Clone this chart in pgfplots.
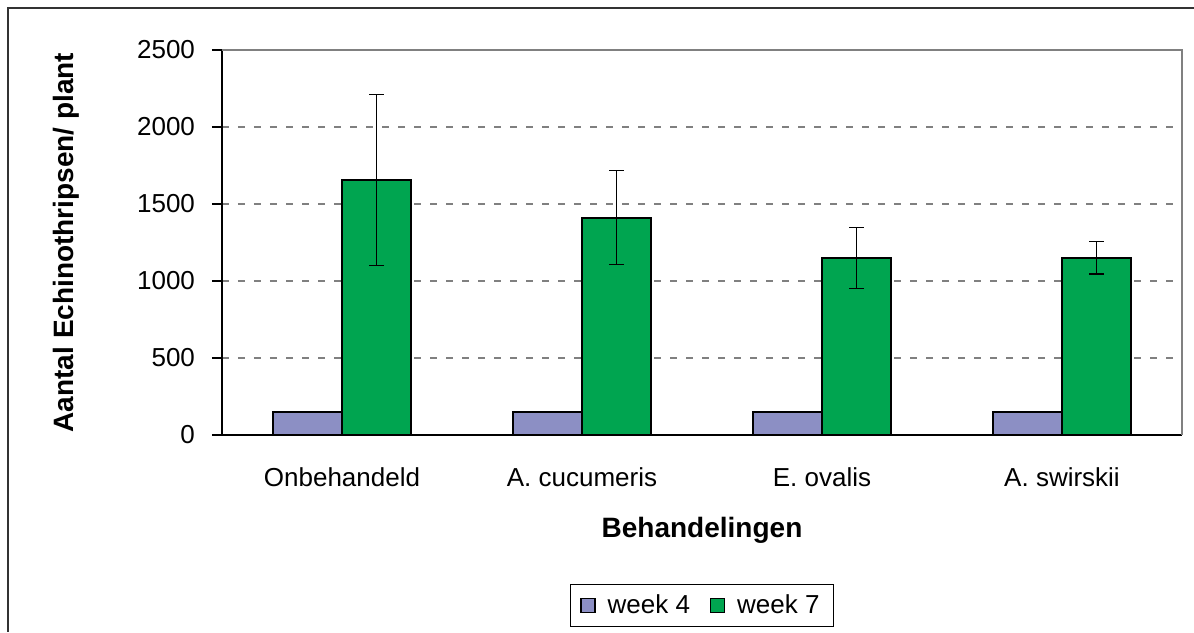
\documentclass[border=0pt]{standalone}
\usepackage{pgfplots}
\pgfplotsset{compat=1.18}
\usepackage{fontspec}
\setmainfont{Liberation Sans}
\definecolor{wkfour}{RGB}{140,143,196}
\definecolor{wkseven}{RGB}{0,165,80}
\definecolor{gridgray}{RGB}{128,128,128}
\begin{document}
\begin{tikzpicture}
\path[use as bounding box] (-111pt,-98.5pt) rectangle (486pt,217.5pt);
\draw[black!80, line width=1pt] (486pt,213.5pt) -- (-107pt,213.5pt) -- (-107pt,-98.5pt);
\begin{axis}[
  width=480pt, height=192.5pt, scale only axis,
  ybar=0pt, bar width=34.5pt,
  xmin=-0.5, xmax=3.5, ymin=0, ymax=2500,
  ytick={0,500,1000,1500,2000,2500},
  xtick={0,1,2,3},
  xticklabels={Onbehandeld, A. cucumeris, E. ovalis, A. swirskii},
  extra x ticks={-0.5,0.5,1.5,2.5,3.5},
  extra x tick labels={},
  extra x tick style={major tick length=5pt, tick align=outside, tick style={black, line width=0.6pt}},
  major x tick style={draw=none},
  ytick style={black, line width=0.6pt},
  major tick length=5pt, tick align=outside,
  ymajorgrids, grid style={gridgray, dash pattern=on 3.5pt off 4.5pt, line width=0.6pt},
  axis x line*=bottom, axis y line*=left,
  axis line style={black, line width=0.6pt},
  /pgf/number format/assume math mode=true,
  /pgf/number format/1000 sep={},
  tick label style={font=\fontsize{13}{15.6}\selectfont},
  yticklabel style={xshift=-5pt},
  xticklabel style={yshift=-8pt},
  ylabel={Aantal Echinothripsen/ plant},
  xlabel={Behandelingen},
  every axis y label/.style={at={(axis description cs:-0.1625,0.5)}, anchor=center, rotate=90, font=\fontsize{14}{16.8}\selectfont\bfseries},
  every axis x label/.style={at={(axis description cs:0.5,-0.247)}, anchor=center, font=\fontsize{14}{16.8}\selectfont\bfseries},
  legend style={at={(axis description cs:0.5,-0.443)}, anchor=center, legend columns=2, draw=black, line width=0.6pt,
     font=\fontsize{13}{15.6}\selectfont, inner xsep=5pt, inner ysep=3pt,
     /tikz/every odd column/.append style={column sep=4pt},
     /tikz/every even column/.append style={column sep=8pt}},
  legend image code/.code={\draw[#1, line width=0.6pt] (0pt,-3.5pt) rectangle (7pt,3.5pt);},
  clip=false,
]
\addplot[fill=wkfour, draw=black, line width=0.75pt] coordinates {(0,150) (1,150) (2,150) (3,150)};
\addplot[fill=wkseven, draw=black, line width=0.75pt,
  error bars/.cd, y dir=both, y explicit,
  error bar style={black, line width=0.6pt},
  error mark options={rotate=90, mark size=3.75pt, black, line width=0.6pt}]
  table[x=x, y=y, y error=e] {
x y e
0 1655 555
1 1410 305
2 1150 200
3 1150 105
};
\draw[gridgray, line width=0.8pt] (rel axis cs:0,1) -- (rel axis cs:1,1) -- (rel axis cs:1,0);
\legend{week 4, week 7}
\end{axis}
\end{tikzpicture}
\end{document}
